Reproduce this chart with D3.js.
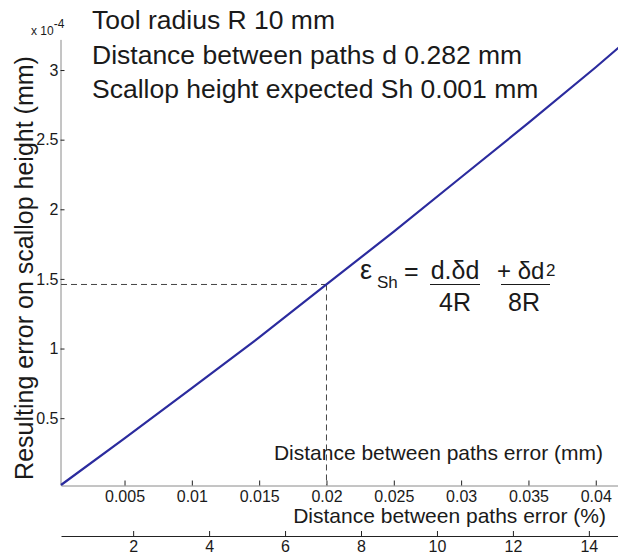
<!DOCTYPE html>
<html>
<head>
<meta charset="utf-8">
<script src="https://cdn.jsdelivr.net/npm/d3@7"></script>
<style>
  body { margin: 0; background: #fff; }
  text { font-family: Arial, "Liberation Sans", Helvetica, sans-serif; fill: #1a1a1a; }
</style>
</head>
<body>
<svg id="chart" width="618" height="558"></svg>
<script>
// values (error in mm, resulting scallop error in 1e-4 mm)
var errMm = [0.000282, 0.005, 0.01, 0.015, 0.02, 0.025, 0.03, 0.035, 0.04, 0.0418];
var scallopErr = [0.02, 0.355, 0.715, 1.08, 1.46, 1.84, 2.23, 2.62, 3.02, 3.17];
var mmTicks = [0.005, 0.01, 0.015, 0.02, 0.025, 0.03, 0.035, 0.04];
var pctTicks = [2, 4, 6, 8, 10, 12, 14];
var yTicks = [0.5, 1, 1.5, 2, 2.5, 3];
var marked = {x: 0.02, y: 1.46};
var infoLines = ["Tool radius R 10 mm", "Distance between paths d 0.282 mm", "Scallop height expected Sh 0.001 mm"];

var svg = d3.select("#chart");

// scales
var x = d3.scaleLinear().domain([0.000282, 0.0418]).range([61, 620]);
var xPct = d3.scaleLinear().domain([0.1, 14.82]).range([61, 620]);
var y = d3.scaleLinear().domain([0.02, 3.22]).range([485, 39.4]);

// bottom axis (mm)
var gx = svg.append("g")
    .attr("transform", "translate(0," + 485.5 + ")")
    .call(d3.axisBottom(x).tickValues(mmTicks)
        .tickFormat(function(d) { return String(+d.toFixed(3)); })
        .tickSizeInner(-5).tickSizeOuter(0).tickPadding(5));

// left axis
var gy = svg.append("g")
    .attr("transform", "translate(" + 60.5 + ",0)")
    .call(d3.axisLeft(y).tickValues(yTicks)
        .tickFormat(function(d) { return String(d); })
        .tickSizeInner(-4).tickSizeOuter(0).tickPadding(2));

// second axis (%)
var gp = svg.append("g")
    .attr("transform", "translate(0," + 536 + ")")
    .call(d3.axisBottom(xPct).tickValues(pctTicks)
        .tickSizeInner(-5).tickSizeOuter(0).tickPadding(5));

[gx, gy, gp].forEach(function(g) {
  g.attr("font-size", 16).attr("font-family", "Arial, 'Liberation Sans', sans-serif");
  g.selectAll("text").style("font-size", "16px").attr("fill", "#1a1a1a");
  g.selectAll(".tick line").attr("stroke", "#222");
});
gx.select(".domain").attr("stroke", "#8a8a8a");
gy.select(".domain").attr("stroke", "#8a8a8a");
gp.select(".domain").attr("stroke", "#222");

// dashed guide lines
svg.append("line")
    .attr("x1", x.range()[0]).attr("x2", x(marked.x))
    .attr("y1", y(marked.y)).attr("y2", y(marked.y))
    .attr("stroke", "#444").attr("stroke-dasharray", "6,4");
svg.append("line")
    .attr("x1", x(marked.x)).attr("x2", x(marked.x))
    .attr("y1", y(marked.y)).attr("y2", y.range()[0])
    .attr("stroke", "#444").attr("stroke-dasharray", "6,4");

// the curve
var pts = errMm.map(function(d, i) { return [d, scallopErr[i]]; });
svg.append("path")
    .datum(pts)
    .attr("fill", "none")
    .attr("stroke", "#2b2b9e")
    .attr("stroke-width", 2.2)
    .attr("d", d3.line().x(function(d) { return x(d[0]); }).y(function(d) { return y(d[1]); }));

// exponent label
var ex = svg.append("text").attr("x", 31).attr("y", 35).style("font-size", "12px");
ex.append("tspan").text("x 10");
ex.append("tspan").attr("dy", -7).style("font-size", "12px").text("-4");

// axis labels
svg.append("text")
    .attr("transform", "translate(33,268) rotate(-90)")
    .attr("text-anchor", "middle")
    .style("font-size", "25px")
    .text("Resulting error on scallop height (mm)");
svg.append("text")
    .attr("x", 603).attr("y", 460)
    .attr("text-anchor", "end")
    .style("font-size", "21px")
    .text("Distance between paths error (mm)");
svg.append("text")
    .attr("x", 606).attr("y", 523)
    .attr("text-anchor", "end")
    .style("font-size", "21px")
    .text("Distance between paths error (%)");

// info lines
svg.selectAll(".info")
    .data(infoLines)
    .enter().append("text")
    .attr("class", "info")
    .attr("x", 92)
    .attr("y", function(d, i) { return 29 + i * 34.5; })
    .style("font-size", "26.5px")
    .text(function(d) { return d; });

// formula
var f = svg.append("g").style("font-size", "25px");
f.append("text").attr("x", 360).attr("y", 279).style("font-size", "27px").text("ε");
f.append("text").attr("x", 377).attr("y", 288).style("font-size", "17px").text("Sh");
f.append("text").attr("x", 404).attr("y", 280).text("=");
f.append("text").attr("x", 455).attr("y", 279).attr("text-anchor", "middle").text("d.δd");
f.append("line").attr("x1", 430).attr("x2", 480).attr("y1", 284.5).attr("y2", 284.5).attr("stroke", "#1a1a1a").attr("stroke-width", 1.2);
f.append("text").attr("x", 455).attr("y", 311).attr("text-anchor", "middle").text("4R");
f.append("text").attr("x", 497).attr("y", 279).style("font-size", "24px").text("+ δd");
f.append("text").attr("x", 546).attr("y", 276).style("font-size", "17px").text("2");
f.append("line").attr("x1", 501).attr("x2", 550).attr("y1", 284.5).attr("y2", 284.5).attr("stroke", "#1a1a1a").attr("stroke-width", 1.2);
f.append("text").attr("x", 524).attr("y", 311).attr("text-anchor", "middle").text("8R");
</script>
</body>
</html>
